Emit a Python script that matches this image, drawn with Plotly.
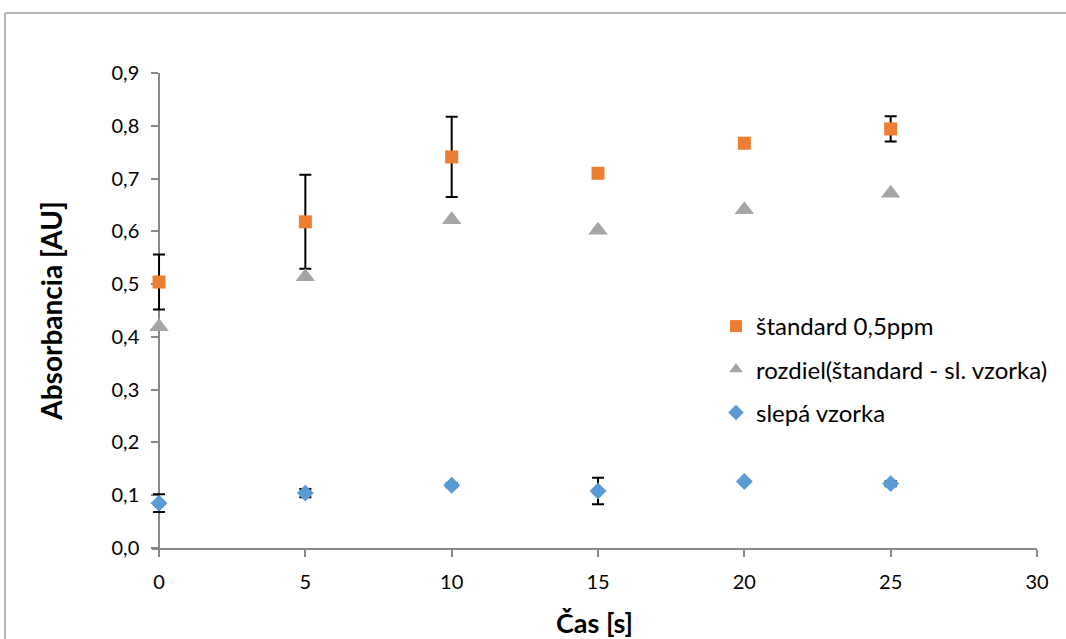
import plotly.graph_objects as go

# Time points [s]
cas = [0, 5, 10, 15, 20, 25]

# Standard 0.5 ppm absorbance and its error
standard = [0.504, 0.618, 0.741, 0.710, 0.767, 0.794]
standard_err = [0.052, 0.089, 0.076, 0.0, 0.0, 0.024]

# Blank sample absorbance and its error
slepa = [0.085, 0.104, 0.119, 0.108, 0.126, 0.122]
slepa_err = [0.017, 0.008, 0.004, 0.025, 0.0, 0.005]

# Difference (standard - blank)
rozdiel = [0.419, 0.514, 0.622, 0.602, 0.641, 0.672]

y_ticks = [0.0, 0.1, 0.2, 0.3, 0.4, 0.5, 0.6, 0.7, 0.8, 0.9]
x_ticks = [0, 5, 10, 15, 20, 25, 30]

FONT = "Lato, 'Open Sans', sans-serif"
AXIS_GRAY = "#898989"

# The x range starts slightly below 0 so that error-bar caps at t = 0 are not
# clipped; the y axis is placed at t = 0 through a free position.
X_MIN, X_MAX = -0.24, 30

fig = go.Figure()

fig.add_trace(go.Scatter(
    x=cas, y=standard, mode="markers", name="štandard 0,5ppm",
    legendgroup="a", cliponaxis=False,
    marker=dict(symbol="square", size=13, color="#ED7D31"),
    error_y=dict(type="data", array=standard_err, visible=True,
                 color="black", thickness=2, width=6),
))
fig.add_trace(go.Scatter(
    x=cas, y=rozdiel, mode="markers", name="rozdiel(štandard - sl. vzorka)",
    legendgroup="b", cliponaxis=False,
    marker=dict(symbol="triangle-up", size=17, color="#A5A5A5"),
))
fig.add_trace(go.Scatter(
    x=cas, y=slepa, mode="markers", name="slepá vzorka",
    legendgroup="c", cliponaxis=False,
    marker=dict(symbol="diamond", size=13, color="#5B9BD5"),
    error_y=dict(type="data", array=slepa_err, visible=True,
                 color="black", thickness=2, width=6),
))

L, R, T, B = 152, 29, 73, 91
W, H = 1066, 639
pw, ph = W - L - R, H - T - B
y_axis_pos = (0 - X_MIN) / (X_MAX - X_MIN)

# Chart-area frame (left and top edges visible)
fig.add_shape(type="line", xref="paper", yref="paper",
              x0=(5 - L) / pw, x1=(W + 10 - L) / pw,
              y0=(548 - 13) / ph, y1=(548 - 13) / ph,
              line=dict(color="#A0A0A0", width=1.5))
fig.add_shape(type="line", xref="paper", yref="paper",
              x0=(5 - L) / pw, x1=(5 - L) / pw,
              y0=(548 - 13) / ph, y1=(548 - H - 10) / ph,
              line=dict(color="#A0A0A0", width=1.5))

fig.update_layout(
    width=W, height=H,
    margin=dict(l=L, r=R, t=T, b=B, autoexpand=False),
    paper_bgcolor="white", plot_bgcolor="white",
    separators=", ",
    font=dict(family=FONT, size=20, color="black"),
    showlegend=True,
    legend=dict(x=(716 - L) / pw, y=(548 - 304) / ph, xanchor="left", yanchor="top",
                font=dict(family=FONT, size=24, color="black"),
                bgcolor="rgba(0,0,0,0)", itemsizing="constant",
                tracegroupgap=9),
    xaxis=dict(
        range=[X_MIN, X_MAX], tickvals=x_ticks, ticktext=[str(v) for v in x_ticks],
        automargin=False, layer="below traces",
        showgrid=False, zeroline=False, showline=True, linecolor=AXIS_GRAY, linewidth=1.5,
        ticks="outside", ticklen=7, tickcolor=AXIS_GRAY, tickwidth=1.5,
        ticklabelstandoff=8,
        tickfont=dict(family=FONT, size=20, color="black"),
        title=dict(text="<b>Čas [s]</b>", font=dict(family=FONT, size=27, color="black"),
                   standoff=22),
    ),
    yaxis=dict(
        anchor="free", position=y_axis_pos,
        automargin=False, layer="below traces",
        range=[0, 0.9], tickvals=y_ticks, ticktext=[f"{v:.1f}".replace(".", ",") for v in y_ticks],
        showgrid=False, zeroline=False, showline=True, linecolor=AXIS_GRAY, linewidth=1.5,
        ticks="outside", ticklen=7, tickcolor=AXIS_GRAY, tickwidth=1.5,
        ticklabelstandoff=8,
        tickfont=dict(family=FONT, size=20, color="black"),
        title=dict(text="<b>Absorbancia [AU]</b>", font=dict(family=FONT, size=28, color="black"),
                   standoff=40),
    ),
)

fig.write_html("out.html")
